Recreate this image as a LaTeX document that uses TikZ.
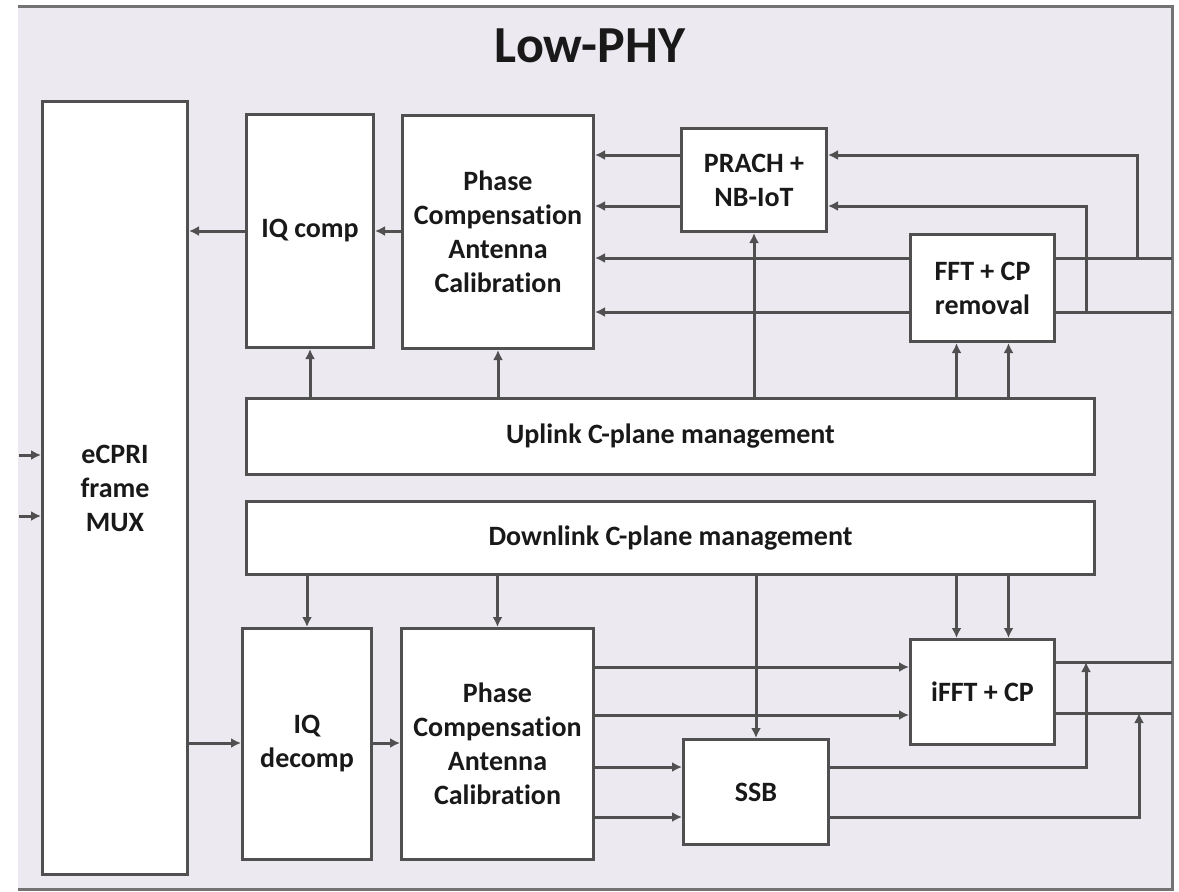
\documentclass[tikz,border=0pt]{standalone}
\usepackage{fontspec}
\setmainfont{Carlito}[Ligatures=NoCommon]
\usetikzlibrary{arrows.meta,calc}
\definecolor{panel}{RGB}{236,233,241}
\definecolor{edge}{RGB}{80,80,80}
\definecolor{frameline}{RGB}{115,115,115}
\definecolor{ink}{RGB}{25,25,25}
\begin{document}
\begin{tikzpicture}[x=1pt,y=-1pt,
  box/.style={draw=edge, line width=3pt, fill=white, text=ink,
    font=\fontsize{28}{34}\selectfont\bfseries, align=center,
    inner sep=0pt, anchor=north west},
  link/.style={draw=edge, line width=3pt},
  arr/.style={link, -{Latex[length=10pt,width=10pt]}}]
\useasboundingbox (0,0) rectangle (1179,892);

% panel
\fill[panel] (18,6) rectangle (1172,889);
\draw[frameline, line width=3pt] (18,6) -- (1172,6) -- (1172,889) -- (18,889);
\node[font=\fontsize{52}{60}\selectfont\bfseries, text=ink] (title) at (590,46) {Low-PHY};

% blocks
\node[box, minimum width=145pt, minimum height=773pt] (mux) at (41,100) {eCPRI\\frame\\MUX};
\node[box, minimum width=127pt, minimum height=233pt] (iqc) at (245,113) {IQ comp};
\node[box, minimum width=191pt, minimum height=233pt] (phul) at (401,114) {Phase\\Compensation\\Antenna\\Calibration};
\node[box, minimum width=145pt, minimum height=103pt] (prach) at (680,127) {PRACH +\\NB-IoT};
\node[box, minimum width=144pt, minimum height=107pt] (fft) at (909,233) {FFT + CP\\removal};
\node[box, minimum width=848pt, minimum height=76pt] (ulm) at (245,397) {Uplink C-plane management};
\node[box, minimum width=848pt, minimum height=73pt] (dlm) at (245,500) {Downlink C-plane management};
\node[box, minimum width=129pt, minimum height=231pt] (iqd) at (241,627) {IQ\\decomp};
\node[box, minimum width=192pt, minimum height=231pt] (phdl) at (400,627) {Phase\\Compensation\\Antenna\\Calibration};
\node[box, minimum width=144pt, minimum height=105pt] (ifft) at (909,638) {iFFT + CP};
\node[box, minimum width=145pt, minimum height=105pt] (ssb) at (682,738) {SSB};

% free ends and taps
\coordinate (ext1) at (19,455);
\coordinate (ext2) at (19,516);
\coordinate (ulin1) at (1172,258);
\coordinate (ulin2) at (1172,312);
\coordinate (tap1) at (1137,258);
\coordinate (tap2) at (1086,312);
\coordinate (dlout1) at (1172,662);
\coordinate (dlout2) at (1172,713);
\coordinate (join1) at (1086,662);
\coordinate (join2) at (1139,713);
\coordinate (fa) at ($(fft.south)+(-26,0)$);
\coordinate (fb) at ($(fft.south)+(26,0)$);
\coordinate (ia) at ($(ifft.north)+(-26,0)$);
\coordinate (ib) at ($(ifft.north)+(26,0)$);

% inputs to the MUX
\draw[arr] (ext1) -- (mux.west |- ext1);
\draw[arr] (ext2) -- (mux.west |- ext2);

% uplink chain
\draw[arr] (iqc.west) -- (mux.east |- iqc.west);
\draw[arr] (phul.west |- iqc.east) -- (iqc.east);
\draw[arr] (prach.west |- 0,155) -- (phul.east |- 0,155);
\draw[arr] (prach.west |- 0,206) -- (phul.east |- 0,206);
\draw[link] (ulin1) -- (fft.east |- ulin1);
\draw[link] (ulin2) -- (fft.east |- ulin2);
\draw[arr] (fft.west |- ulin1) -- (phul.east |- ulin1);
\draw[arr] (fft.west |- ulin2) -- (phul.east |- ulin2);
\draw[arr] (tap1) |- (prach.east |- 0,155);
\draw[arr] (tap2) |- (prach.east |- 0,206);

% uplink control
\draw[arr] (ulm.north -| iqc.south) -- (iqc.south);
\draw[arr] (ulm.north -| phul.south) -- (phul.south);
\draw[arr] (ulm.north -| prach.south) -- (prach.south);
\draw[arr] (ulm.north -| fa) -- (fa);
\draw[arr] (ulm.north -| fb) -- (fb);

% downlink control
\draw[arr] (dlm.south -| iqd.north) -- (iqd.north);
\draw[arr] (dlm.south -| phdl.north) -- (phdl.north);
\draw[arr] (dlm.south -| ssb.north) -- (ssb.north);
\draw[arr] (dlm.south -| ia) -- (ia);
\draw[arr] (dlm.south -| ib) -- (ib);

% downlink chain
\draw[arr] (mux.east |- 0,743) -- (iqd.west |- 0,743);
\draw[arr] (iqd.east |- 0,743) -- (phdl.west |- 0,743);
\draw[arr] (phdl.east |- 0,667) -- (ifft.west |- 0,667);
\draw[arr] (phdl.east |- 0,715) -- (ifft.west |- 0,715);
\draw[arr] (phdl.east |- 0,767) -- (ssb.west |- 0,767);
\draw[arr] (phdl.east |- 0,817) -- (ssb.west |- 0,817);
\draw[link] (ifft.east |- dlout1) -- (dlout1);
\draw[link] (ifft.east |- dlout2) -- (dlout2);
\draw[arr] (ssb.east |- 0,767) -| (join1);
\draw[arr] (ssb.east |- 0,817) -| (join2);
\end{tikzpicture}
\end{document}
